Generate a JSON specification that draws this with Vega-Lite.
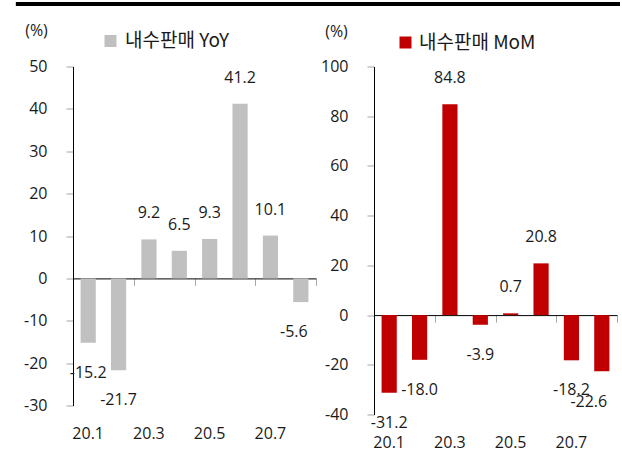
{
  "$schema": "https://vega.github.io/schema/vega-lite/v6.json",
  "padding": {"left": 13, "top": 1.5, "right": 2, "bottom": 0},
  "datasets": {
    "yoy": [
      {"month": "20.1", "value": -15.2},
      {"month": "20.2", "value": -21.7},
      {"month": "20.3", "value": 9.2},
      {"month": "20.4", "value": 6.5},
      {"month": "20.5", "value": 9.3},
      {"month": "20.6", "value": 41.2},
      {"month": "20.7", "value": 10.1},
      {"month": "20.8", "value": -5.6}
    ],
    "mom": [
      {"month": "20.1", "value": -31.2},
      {"month": "20.2", "value": -18.0},
      {"month": "20.3", "value": 84.8},
      {"month": "20.4", "value": -3.9},
      {"month": "20.5", "value": 0.7},
      {"month": "20.6", "value": 20.8},
      {"month": "20.7", "value": -18.2},
      {"month": "20.8", "value": -22.6}
    ],
    "topline": [{"line": "top"}]
  },
  "config": {
    "view": {"stroke": null},
    "font": "Open Sans, Noto Sans CJK KR, sans-serif",
    "locale": {"number": {"decimal": ".", "thousands": ",", "grouping": [3], "currency": ["", ""], "minus": "-"}},
    "axis": {"labelFont": "Open Sans", "labelFontSize": 16, "labelColor": "#1a1a1a", "grid": false, "domainColor": "#000000", "tickColor": "#a6a6a6"},
    "text": {"font": "Open Sans", "fontSize": 16, "color": "#1a1a1a"}
  },
  "spacing": 15,
  "vconcat": [
    {
      "width": 547,
      "height": 1,
      "data": {"name": "topline"},
      "mark": {"type": "rule", "strokeWidth": 4, "color": "#000000", "clip": false},
      "encoding": {
        "x": {"datum": -0.1045, "type": "quantitative", "scale": {"domain": [0, 1], "nice": false, "zero": false}, "axis": null},
        "x2": {"datum": 1},
        "y": {"datum": 0, "type": "quantitative", "scale": {"domain": [-1, 1]}, "axis": null}
      }
    },
    {
      "spacing": 3,
      "resolve": {"scale": {"x": "independent", "y": "independent", "color": "independent"}, "legend": {"color": "independent"}},
      "hconcat": [
        {
          "width": 243,
          "height": 339,
          "data": {"name": "yoy"},
          "resolve": {"axis": {"x": "independent", "y": "independent"}},
          "layer": [
            {
              "mark": {"type": "bar"},
              "encoding": {
                "x": {"field": "month", "type": "ordinal", "sort": null, "scale": {"paddingInner": 0.5, "paddingOuter": 0.25},
                      "axis": {"orient": "bottom", "values": ["20.1", "20.3", "20.5", "20.7"], "domain": false, "ticks": false, "labelPadding": 20, "labelAngle": 0, "title": null}},
                "y": {"field": "value", "type": "quantitative", "scale": {"domain": [-30, 50], "nice": false},
                      "axis": {"values": [-30, -20, -10, 0, 10, 20, 30, 40, 50], "tickSize": 7, "labelPadding": 19, "title": "(%)", "titleAngle": 0, "titleX": -37, "titleY": -36.5, "titleAlign": "center", "titleBaseline": "middle", "titleFont": "Open Sans", "titleFontSize": 16, "titleFontWeight": "normal", "titleColor": "#1a1a1a"}},
                "color": {"datum": "내수판매 YoY", "scale": {"range": ["#c0c0c0"]},
                          "legend": {"orient": "none", "legendX": 28, "legendY": -35, "title": null, "symbolType": "square", "symbolSize": 144, "symbolStrokeWidth": 0, "symbolOpacity": 1, "labelFont": "Noto Sans CJK KR", "labelFontSize": 19, "labelOffset": 5, "labelColor": "#1a1a1a", "padding": 0}}
              }
            },
            {
              "transform": [{"filter": "datum.value >= 0"}],
              "mark": {"type": "text", "dy": -26, "baseline": "middle"},
              "encoding": {
                "x": {"field": "month", "type": "ordinal", "sort": null,
                      "axis": {"orient": "bottom", "offset": -127.1, "values": ["20.2", "20.4", "20.6", "20.8"], "bandPosition": 1, "tickOffset": 7.6, "labels": false, "domain": true, "domainColor": "#000000", "ticks": true, "tickSize": 7, "title": null}},
                "y": {"field": "value", "type": "quantitative", "axis": null},
                "text": {"field": "value", "type": "quantitative", "format": ".1f"}
              }
            },
            {
              "transform": [{"filter": "datum.value < 0 && datum.month != '20.8'"}],
              "mark": {"type": "text", "dy": 30, "baseline": "middle"},
              "encoding": {
                "x": {"field": "month", "type": "ordinal", "sort": null, "axis": null},
                "y": {"field": "value", "type": "quantitative", "axis": null},
                "text": {"field": "value", "type": "quantitative", "format": ".1f"}
              }
            },
            {
              "transform": [{"filter": "datum.month == '20.8'"}],
              "mark": {"type": "text", "dy": 30, "dx": -7, "baseline": "middle"},
              "encoding": {
                "x": {"field": "month", "type": "ordinal", "sort": null, "axis": null},
                "y": {"field": "value", "type": "quantitative", "axis": null},
                "text": {"field": "value", "type": "quantitative", "format": ".1f"}
              }
            }
          ]
        },
        {
          "width": 243,
          "height": 348,
          "data": {"name": "mom"},
          "resolve": {"axis": {"x": "independent", "y": "independent"}},
          "layer": [
            {
              "mark": {"type": "bar"},
              "encoding": {
                "x": {"field": "month", "type": "ordinal", "sort": null, "scale": {"paddingInner": 0.5, "paddingOuter": 0.25},
                      "axis": {"orient": "bottom", "values": ["20.1", "20.3", "20.5", "20.7"], "domain": false, "ticks": false, "labelPadding": 20, "labelAngle": 0, "title": null}},
                "y": {"field": "value", "type": "quantitative", "scale": {"domain": [-40, 100], "nice": false},
                      "axis": {"values": [-40, -20, 0, 20, 40, 60, 80, 100], "tickSize": 7, "labelPadding": 19, "title": "(%)", "titleAngle": 0, "titleX": -38, "titleY": -35, "titleAlign": "center", "titleBaseline": "middle", "titleFont": "Open Sans", "titleFontSize": 16, "titleFontWeight": "normal", "titleColor": "#1a1a1a"}},
                "color": {"datum": "내수판매 MoM", "scale": {"range": ["#c00000"]},
                          "legend": {"orient": "none", "legendX": 22, "legendY": -33.5, "title": null, "symbolType": "square", "symbolSize": 144, "symbolStrokeWidth": 0, "symbolOpacity": 1, "labelFont": "Noto Sans CJK KR", "labelFontSize": 19, "labelOffset": 4, "labelColor": "#1a1a1a", "padding": 0}}
              }
            },
            {
              "transform": [{"filter": "datum.value >= 0"}],
              "mark": {"type": "text", "dy": -26, "baseline": "middle"},
              "encoding": {
                "x": {"field": "month", "type": "ordinal", "sort": null,
                      "axis": {"orient": "bottom", "offset": -99.4, "values": ["20.2", "20.4", "20.6", "20.8"], "bandPosition": 1, "tickOffset": 7.6, "labels": false, "domain": true, "domainColor": "#000000", "ticks": true, "tickSize": 7, "title": null}},
                "y": {"field": "value", "type": "quantitative", "axis": null},
                "text": {"field": "value", "type": "quantitative", "format": ".1f"}
              }
            },
            {
              "transform": [{"filter": "datum.value < 0 && datum.month != '20.8'"}],
              "mark": {"type": "text", "dy": 30, "baseline": "middle"},
              "encoding": {
                "x": {"field": "month", "type": "ordinal", "sort": null, "axis": null},
                "y": {"field": "value", "type": "quantitative", "axis": null},
                "text": {"field": "value", "type": "quantitative", "format": ".1f"}
              }
            },
            {
              "transform": [{"filter": "datum.month == '20.8'"}],
              "mark": {"type": "text", "dy": 31, "dx": -13, "baseline": "middle"},
              "encoding": {
                "x": {"field": "month", "type": "ordinal", "sort": null, "axis": null},
                "y": {"field": "value", "type": "quantitative", "axis": null},
                "text": {"field": "value", "type": "quantitative", "format": ".1f"}
              }
            }
          ]
        }
      ]
    }
  ]
}
